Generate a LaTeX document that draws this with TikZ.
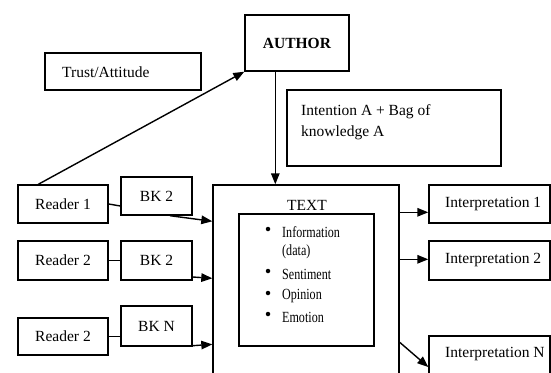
\documentclass[tikz,border=0pt]{standalone}
\usepackage{fontspec}
\setmainfont{Liberation Serif}
\newfontfamily\condfont[FakeStretch=0.78]{Liberation Serif}
\usetikzlibrary{arrows.meta}
\begin{document}
\begin{tikzpicture}[x=1pt,y=-1pt,
  font=\fontsize{15.5}{21}\selectfont,
  box/.style={draw, line width=1.4pt, inner sep=0pt},
  arr/.style={line width=1.4pt, -{Triangle[length=11pt,width=8.5pt]}},
  ln/.style={line width=1.4pt},
  txt/.style={anchor=west, inner sep=0pt},
  lst/.style={anchor=west, inner sep=0pt, font=\condfont\fontsize{15.5}{21}\selectfont},
  bul/.style={circle, fill, inner sep=0pt, minimum size=4.5pt}]
\useasboundingbox (0,0) rectangle (551,372);
\clip (0,0) rectangle (551,372);

% top part
\node[box, minimum width=104pt, minimum height=56pt] (author) at (297,43) {\textbf{AUTHOR}};
\node[box, minimum width=156pt, minimum height=37pt] (trust) at (123,71.5) {};
\node[txt] (trusttext) at (62,72) {Trust/Attitude};
\node[box, minimum width=214pt, minimum height=76pt] (intent) at (394,128) {};
\node[anchor=north west, align=left, inner sep=0pt] (intenttext) at (301,104) {Intention A + Bag of\\knowledge A};

% readers and BK
\node[box, minimum width=90pt, minimum height=38pt] (r1) at (63,204) {Reader 1};
\node[box, minimum width=71pt, minimum height=38pt] (bk1) at (156.5,196) {BK 2};
\node[box, minimum width=90pt, minimum height=39pt] (r2) at (63,260.5) {Reader 2};
\node[box, minimum width=71pt, minimum height=39pt] (bk2) at (156.5,260.5) {BK 2};
\node[box, minimum width=90pt, minimum height=37pt] (r3) at (63,336.5) {Reader 2};
\node[box, minimum width=71pt, minimum height=40pt] (bkn) at (156.5,326) {BK N};

% text block
\node[box, minimum width=186pt, minimum height=200pt] (tb) at (306,285) {};
\node[inner sep=0pt] (tbl) at (307,205) {TEXT};
\node[box, minimum width=135pt, minimum height=132pt] (inner) at (306.5,280) {};
\node[bul] (b1) at (268,229) {};
\node[lst] (l1) at (282,232) {Information};
\node[lst] (l2) at (282,252) {(data)};
\node[bul] (b2) at (268,271) {};
\node[lst] (l3) at (282,274) {Sentiment};
\node[bul] (b3) at (268,293) {};
\node[lst] (l4) at (282,296) {Opinion};
\node[bul] (b4) at (268,314) {};
\node[lst] (l5) at (282,317) {Emotion};

% interpretations
\node[box, minimum width=121pt, minimum height=38pt] (i1) at (489.5,204) {};
\node[txt] (i1text) at (445,204) {Interpretation 1};
\node[box, minimum width=121pt, minimum height=39pt] (i2) at (489.5,260.5) {};
\node[txt] (i2text) at (445,260.5) {Interpretation 2};
\node[box, minimum width=121pt, minimum height=50pt] (in) at (489.5,361) {};
\node[txt] (intext) at (445,354) {Interpretation N};

% connectors
\draw[arr] ([xshift=21pt]r1.north west) -- (author.south west);
\draw[arr] ([xshift=31pt]author.south west) -- ([xshift=31pt]author.south west |- tb.north);
\draw[ln] (r1.east) -- ([yshift=-10pt]bk1.west);
\draw[arr] ([xshift=13.5pt]bk1.south) -- ([yshift=-37pt]tb.north west);
\draw[ln] (r2.east) -- (bk2.west);
\draw[arr] ([yshift=-16.5pt]bk2.east) -- ([yshift=-94pt]tb.north west);
\draw[ln] (r3.east) -- (r3.east -| bkn.west);
\draw[arr] ([yshift=1pt]bkn.south east) -- ([yshift=-160pt]tb.north west);
\draw[arr] ([yshift=-28pt]tb.north east) -- ([yshift=-28pt]tb.north east -| i1.west);
\draw[arr] ([yshift=-75pt]tb.north east) -- ([yshift=-75pt]tb.north east -| i2.west);
\draw[arr] ([yshift=-158pt]tb.north east) -- ([yshift=-6pt]in.west);
\end{tikzpicture}
\end{document}
